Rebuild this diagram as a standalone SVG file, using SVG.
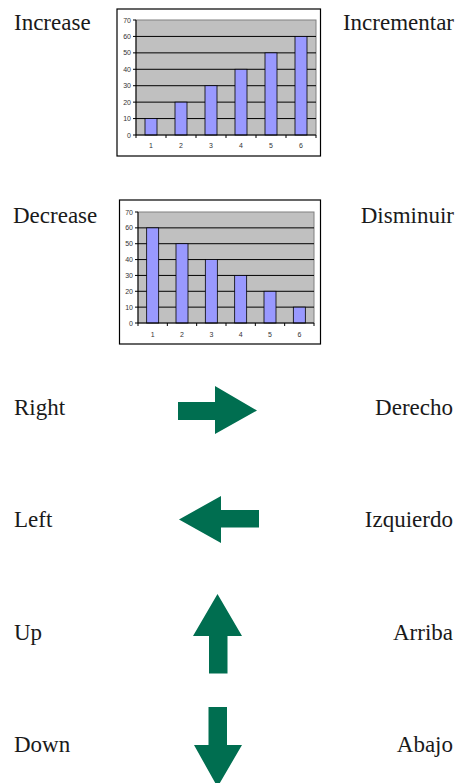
<svg xmlns="http://www.w3.org/2000/svg" width="476" height="783" viewBox="0 0 476 783">
<style>
.lbl{font-family:"Liberation Serif","Times New Roman",serif;font-size:23px;fill:#1a1a1a}
.r{text-anchor:end}
.frame{fill:#fff;stroke:#000;stroke-width:1.2}
.plot{fill:#c0c0c0;stroke:#808080;stroke-width:1}
.grid{stroke:#000;stroke-width:1}
.axis{stroke:#000;stroke-width:1;fill:none}
.bar{fill:#9999ff;stroke:#000;stroke-width:0.8}
.tk{font-family:"Liberation Sans",Arial,sans-serif;font-size:7px;fill:#333}
.yt{text-anchor:end}
.xt{text-anchor:middle}
.arrow{fill:#006e50}
</style>
<rect width="476" height="783" fill="#fff"/>

<g id="label-increase"><text class="lbl" x="14" y="30">Increase</text></g>
<g id="label-incrementar"><text class="lbl r" x="454" y="30">Incrementar</text></g>

<g id="chart-increase">
<rect class="frame" x="117" y="9" width="203.5" height="147"/>
<rect class="plot" x="136" y="20" width="180" height="115"/>
<g class="grid">
<line x1="136" y1="118.57" x2="316" y2="118.57"/>
<line x1="136" y1="102.14" x2="316" y2="102.14"/>
<line x1="136" y1="85.71" x2="316" y2="85.71"/>
<line x1="136" y1="69.29" x2="316" y2="69.29"/>
<line x1="136" y1="52.86" x2="316" y2="52.86"/>
<line x1="136" y1="36.43" x2="316" y2="36.43"/>
</g>
<rect class="bar" x="145" y="118.57" width="12" height="16.43"/>
<rect class="bar" x="175" y="102.14" width="12" height="32.86"/>
<rect class="bar" x="205" y="85.71" width="12" height="49.29"/>
<rect class="bar" x="235" y="69.29" width="12" height="65.71"/>
<rect class="bar" x="265" y="52.86" width="12" height="82.14"/>
<rect class="bar" x="295" y="36.43" width="12" height="98.57"/>
<path class="axis" d="M136 20V135H316M133 135H136M133 118.57H136M133 102.14H136M133 85.71H136M133 69.29H136M133 52.86H136M133 36.43H136M133 20H136M136 135V138M166 135V138M196 135V138M226 135V138M256 135V138M286 135V138M316 135V138"/>
<g class="tk yt">
<text x="131" y="137.5">0</text>
<text x="131" y="121">10</text>
<text x="131" y="104.6">20</text>
<text x="131" y="88.2">30</text>
<text x="131" y="71.8">40</text>
<text x="131" y="55.4">50</text>
<text x="131" y="39">60</text>
<text x="131" y="22.5">70</text>
</g>
<g class="tk xt">
<text x="151" y="148">1</text>
<text x="181" y="148">2</text>
<text x="211" y="148">3</text>
<text x="241" y="148">4</text>
<text x="271" y="148">5</text>
<text x="301" y="148">6</text>
</g>
</g>

<g id="label-decrease"><text class="lbl" x="13" y="222.5">Decrease</text></g>
<g id="label-disminuir"><text class="lbl r" x="454" y="222.5">Disminuir</text></g>

<g id="chart-decrease">
<rect class="frame" x="119.5" y="200" width="201" height="144"/>
<rect class="plot" x="138" y="212" width="176" height="111"/>
<g class="grid">
<line x1="138" y1="307.14" x2="314" y2="307.14"/>
<line x1="138" y1="291.29" x2="314" y2="291.29"/>
<line x1="138" y1="275.43" x2="314" y2="275.43"/>
<line x1="138" y1="259.57" x2="314" y2="259.57"/>
<line x1="138" y1="243.71" x2="314" y2="243.71"/>
<line x1="138" y1="227.86" x2="314" y2="227.86"/>
</g>
<rect class="bar" x="146.67" y="227.86" width="12" height="95.14"/>
<rect class="bar" x="176" y="243.71" width="12" height="79.29"/>
<rect class="bar" x="205.33" y="259.57" width="12" height="63.43"/>
<rect class="bar" x="234.67" y="275.43" width="12" height="47.57"/>
<rect class="bar" x="264" y="291.29" width="12" height="31.71"/>
<rect class="bar" x="293.33" y="307.14" width="12" height="15.86"/>
<path class="axis" d="M138 212V323H314M135 323H138M135 307.14H138M135 291.29H138M135 275.43H138M135 259.57H138M135 243.71H138M135 227.86H138M135 212H138M138 323V326M167.33 323V326M196.67 323V326M226 323V326M255.33 323V326M284.67 323V326M314 323V326"/>
<g class="tk yt">
<text x="133" y="325.5">0</text>
<text x="133" y="309.6">10</text>
<text x="133" y="293.8">20</text>
<text x="133" y="277.9">30</text>
<text x="133" y="262">40</text>
<text x="133" y="246.2">50</text>
<text x="133" y="230.3">60</text>
<text x="133" y="214.5">70</text>
</g>
<g class="tk xt">
<text x="152.67" y="337">1</text>
<text x="182" y="337">2</text>
<text x="211.33" y="337">3</text>
<text x="240.67" y="337">4</text>
<text x="270" y="337">5</text>
<text x="299.33" y="337">6</text>
</g>
</g>

<g id="label-right"><text class="lbl" x="14" y="415">Right</text></g>
<g id="label-derecho"><text class="lbl r" x="453" y="415">Derecho</text></g>
<g id="arrow-right"><polygon class="arrow" points="178,402 215,402 215,386 257,410.5 215,434 215,420 178,420"/></g>

<g id="label-left"><text class="lbl" x="14" y="527">Left</text></g>
<g id="label-izquierdo"><text class="lbl r" x="453" y="527">Izquierdo</text></g>
<g id="arrow-left"><polygon class="arrow" points="259,510 221,510 221,496 179,519.5 221,543 221,527.5 259,527.5"/></g>

<g id="label-up"><text class="lbl" x="14" y="640">Up</text></g>
<g id="label-arriba"><text class="lbl r" x="453" y="640">Arriba</text></g>
<g id="arrow-up"><polygon class="arrow" points="217.5,594 242,636 227.5,636 227.5,673.5 209,673.5 209,636 193,636"/></g>

<g id="label-down"><text class="lbl" x="14" y="752">Down</text></g>
<g id="label-abajo"><text class="lbl r" x="453" y="752">Abajo</text></g>
<g id="arrow-down"><polygon class="arrow" points="208.5,707 227,707 227,745 242,745 217.5,787 194,745 208.5,745"/></g>

<g id="connectors"></g>
</svg>
